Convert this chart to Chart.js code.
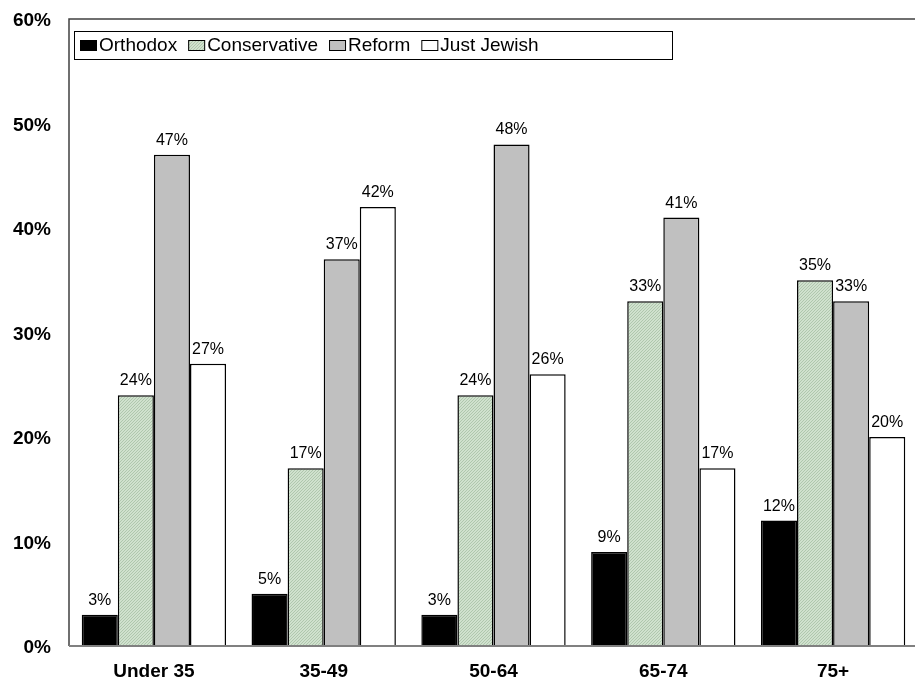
<!DOCTYPE html>
<html>
<head>
<meta charset="utf-8">
<script src="https://cdn.jsdelivr.net/npm/chart.js@4"></script>
<style>
  html, body { margin: 0; padding: 0; background: #fff; overflow: hidden; }
  #wrap { width: 918px; height: 678px; position: relative; }
</style>
</head>
<body>
<div id="wrap"><canvas id="c"></canvas></div>
<script>
const categories = ['Under 35', '35-49', '50-64', '65-74', '75+'];
const orthodox = [3, 5, 3, 9, 12];
const conservative = [24, 17, 24, 33, 35];
const reform = [47, 37, 48, 41, 33];
const justJewish = [27, 42, 26, 17, 20];
const seriesNames = ['Orthodox', 'Conservative', 'Reform', 'Just Jewish'];
const yTicks = [0, 10, 20, 30, 40, 50, 60];

function hatch() {
  const c = document.createElement('canvas');
  c.width = 3; c.height = 3;
  const g = c.getContext('2d');
  g.fillStyle = '#d0e1ce';
  g.fillRect(0, 0, 3, 3);
  g.fillStyle = '#afc7ad';
  g.fillRect(0, 2, 1, 1);
  g.fillRect(1, 1, 1, 1);
  g.fillRect(2, 0, 1, 1);
  return g.createPattern(c, 'repeat');
}

const fills = ['#000000', hatch(), '#c0c0c0', '#ffffff'];
const legendSwatch = ['#000000', hatch(), '#c0c0c0', '#ffffff'];

const labelPlugin = {
  id: 'vals',
  afterDatasetsDraw(chart) {
    const ctx = chart.ctx;
    ctx.save();
    ctx.font = '16px "Liberation Sans", Arial, sans-serif';
    ctx.fillStyle = '#000';
    ctx.textAlign = 'center';
    ctx.textBaseline = 'alphabetic';
    chart.data.datasets.forEach((ds, i) => {
      chart.getDatasetMeta(i).data.forEach((bar, j) => {
        ctx.fillText(ds.data[j] + '%', bar.x, bar.y - 10);
      });
    });
    ctx.restore();
  }
};

const framePlugin = {
  id: 'frame',
  afterDraw(chart) {
    const ctx = chart.ctx;
    const a = chart.chartArea;
    ctx.save();
    ctx.strokeStyle = '#404040';
    ctx.lineWidth = 1.5;
    ctx.beginPath();
    ctx.moveTo(a.left, a.bottom);
    ctx.lineTo(a.left, a.top);
    ctx.lineTo(chart.width, a.top);
    ctx.stroke();
    ctx.strokeStyle = '#808080';
    ctx.lineWidth = 2;
    ctx.beginPath();
    ctx.moveTo(a.left, a.bottom);
    ctx.lineTo(chart.width, a.bottom);
    ctx.stroke();
    const bx = 74, by = 31, bw = 598, bh = 28;
    ctx.fillStyle = '#fff';
    ctx.fillRect(bx, by, bw, bh);
    ctx.strokeStyle = '#000';
    ctx.lineWidth = 1;
    ctx.strokeRect(bx + 0.5, by + 0.5, bw, bh);
    ctx.font = '19px "Liberation Sans", Arial, sans-serif';
    ctx.textBaseline = 'middle';
    ctx.textAlign = 'left';
    let x = 80;
    chart.data.datasets.forEach((ds, i) => {
      ctx.fillStyle = legendSwatch[i];
      ctx.fillRect(x, 40, 17, 11);
      ctx.strokeStyle = '#000';
      ctx.lineWidth = 1;
      ctx.strokeRect(x + 0.5, 40.5, 16, 10);
      ctx.fillStyle = '#000';
      ctx.fillText(ds.label, x + 19, 46);
      x += 19 + ctx.measureText(ds.label).width + 11;
    });
    ctx.restore();
  }
};

new Chart(document.getElementById('c'), {
  type: 'bar',
  data: {
    labels: categories,
    datasets: [orthodox, conservative, reform, justJewish].map((d, i) => ({
      label: seriesNames[i],
      data: d,
      backgroundColor: fills[i],
      borderColor: '#000',
      borderWidth: 1.5,
      borderSkipped: 'bottom'
    }))
  },
  options: {
    responsive: true,
    maintainAspectRatio: false,
    animation: false,
    layout: { padding: { top: 19, left: 0, right: 0, bottom: 0 } },
    plugins: { legend: { display: false }, tooltip: { enabled: false } },
    datasets: { bar: { categoryPercentage: 0.85, barPercentage: 1.0 } },
    scales: {
      x: {
        grid: { display: false, drawTicks: false },
        border: { display: false },
        ticks: {
          color: '#000',
          font: { family: '"Liberation Sans", Arial, sans-serif', size: 19, weight: 'bold' },
          padding: 14
        },
        afterFit(s) { s.height = 32; s.paddingLeft = 0; s.paddingRight = 0; }
      },
      y: {
        min: 0, max: 60,
        grid: { display: false, drawTicks: false },
        border: { display: false },
        afterBuildTicks(s) { s.ticks = yTicks.map(v => ({ value: v })); },
        ticks: {
          color: '#000',
          font: { family: '"Liberation Sans", Arial, sans-serif', size: 19, weight: 'bold' },
          padding: 18,
          labelOffset: 2,
          callback: v => v + '%'
        },
        afterFit(s) { s.width = 69; s.paddingTop = 0; s.paddingBottom = 0; }
      }
    }
  },
  plugins: [labelPlugin, framePlugin]
});
</script>
</body>
</html>
